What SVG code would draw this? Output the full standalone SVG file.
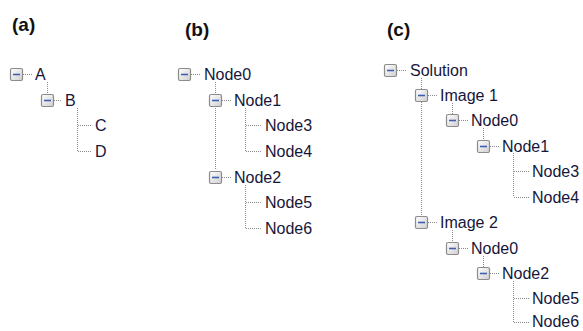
<svg xmlns="http://www.w3.org/2000/svg" width="583" height="331" viewBox="0 0 583 331">
<defs>
<linearGradient id="bx" x1="0" y1="0" x2="1" y2="1">
<stop offset="0" stop-color="#ffffff"/>
<stop offset="1" stop-color="#cfcfcf"/>
</linearGradient>
<g id="exp">
<rect x="-6" y="-6" width="12" height="12" rx="1.5" fill="url(#bx)" stroke="#8c8c8c" stroke-width="1.2"/>
<line x1="-3.5" y1="0" x2="3.5" y2="0" stroke="#3f5fb0" stroke-width="1.6"/>
</g>
</defs>
<style>
.t{font-family:"Liberation Sans",Arial,sans-serif;font-size:16px;fill:#16163a}
.h{font-family:"Liberation Sans",Arial,sans-serif;font-size:19px;font-weight:bold;fill:#111}
.c line{stroke:#8a8a8a;stroke-width:1;stroke-dasharray:1 1}
</style>
<rect width="583" height="331" fill="#fff"/>
<text class="h" x="12" y="31">(a)</text>
<text class="h" x="185" y="36">(b)</text>
<text class="h" x="387" y="36">(c)</text>
<g class="c" id="connectors">
<!-- (a) -->
<line x1="23" y1="74.5" x2="32" y2="74.5"/>
<line x1="47.5" y1="82" x2="47.5" y2="93"/>
<line x1="54" y1="100.5" x2="62" y2="100.5"/>
<line x1="77.5" y1="108" x2="77.5" y2="151"/>
<line x1="78" y1="125.5" x2="92" y2="125.5"/>
<line x1="78" y1="151.5" x2="92" y2="151.5"/>
<!-- (b) -->
<line x1="191" y1="74.5" x2="201" y2="74.5"/>
<line x1="215.5" y1="82" x2="215.5" y2="170"/>
<line x1="222" y1="100.5" x2="231" y2="100.5"/>
<line x1="245.5" y1="108" x2="245.5" y2="151"/>
<line x1="246" y1="125.5" x2="262" y2="125.5"/>
<line x1="246" y1="151.5" x2="262" y2="151.5"/>
<line x1="222" y1="177.5" x2="231" y2="177.5"/>
<line x1="245.5" y1="185" x2="245.5" y2="228"/>
<line x1="246" y1="202.5" x2="262" y2="202.5"/>
<line x1="246" y1="228.5" x2="262" y2="228.5"/>
<!-- (c) -->
<line x1="397" y1="70.5" x2="407" y2="70.5"/>
<line x1="421.5" y1="78" x2="421.5" y2="216"/>
<line x1="428" y1="95.5" x2="437" y2="95.5"/>
<line x1="452.5" y1="103" x2="452.5" y2="114"/>
<line x1="459" y1="120.5" x2="468" y2="120.5"/>
<line x1="483.5" y1="128" x2="483.5" y2="140"/>
<line x1="490" y1="146.5" x2="499" y2="146.5"/>
<line x1="513.5" y1="153" x2="513.5" y2="197"/>
<line x1="514" y1="171.5" x2="529" y2="171.5"/>
<line x1="514" y1="197.5" x2="529" y2="197.5"/>
<line x1="428" y1="222.5" x2="437" y2="222.5"/>
<line x1="452.5" y1="230" x2="452.5" y2="241"/>
<line x1="459" y1="248.5" x2="468" y2="248.5"/>
<line x1="483.5" y1="256" x2="483.5" y2="267"/>
<line x1="490" y1="273.5" x2="499" y2="273.5"/>
<line x1="513.5" y1="281" x2="513.5" y2="322"/>
<line x1="514" y1="298.5" x2="529" y2="298.5"/>
<line x1="514" y1="322.5" x2="529" y2="322.5"/>
</g>
<!-- (a) nodes -->
<g id="a-A"><use href="#exp" x="16.5" y="74.5"/><text class="t" x="35" y="80">A</text></g>
<g id="a-B"><use href="#exp" x="47.5" y="100.5"/><text class="t" x="65" y="106">B</text></g>
<g id="a-C"><text class="t" x="95" y="131">C</text></g>
<g id="a-D"><text class="t" x="95" y="157">D</text></g>
<!-- (b) nodes -->
<g id="b-Node0"><use href="#exp" x="184.5" y="74.5"/><text class="t" x="204" y="80">Node0</text></g>
<g id="b-Node1"><use href="#exp" x="215.5" y="100.5"/><text class="t" x="234" y="106">Node1</text></g>
<g id="b-Node3"><text class="t" x="265" y="131">Node3</text></g>
<g id="b-Node4"><text class="t" x="265" y="157">Node4</text></g>
<g id="b-Node2"><use href="#exp" x="215.5" y="177.5"/><text class="t" x="234" y="183">Node2</text></g>
<g id="b-Node5"><text class="t" x="265" y="208">Node5</text></g>
<g id="b-Node6"><text class="t" x="265" y="234">Node6</text></g>
<!-- (c) nodes -->
<g id="c-Solution"><use href="#exp" x="390.5" y="70.5"/><text class="t" x="410" y="76">Solution</text></g>
<g id="c-Image1"><use href="#exp" x="421.5" y="95.5"/><text class="t" x="440" y="101">Image 1</text></g>
<g id="c-Node0a"><use href="#exp" x="452.5" y="120.5"/><text class="t" x="471" y="126">Node0</text></g>
<g id="c-Node1"><use href="#exp" x="483.5" y="146.5"/><text class="t" x="502" y="152">Node1</text></g>
<g id="c-Node3"><text class="t" x="532" y="177">Node3</text></g>
<g id="c-Node4"><text class="t" x="532" y="203">Node4</text></g>
<g id="c-Image2"><use href="#exp" x="421.5" y="222.5"/><text class="t" x="440" y="228">Image 2</text></g>
<g id="c-Node0b"><use href="#exp" x="452.5" y="248.5"/><text class="t" x="471" y="254">Node0</text></g>
<g id="c-Node2"><use href="#exp" x="483.5" y="273.5"/><text class="t" x="502" y="279">Node2</text></g>
<g id="c-Node5"><text class="t" x="532" y="304">Node5</text></g>
<g id="c-Node6"><text class="t" x="532" y="327">Node6</text></g>
</svg>
